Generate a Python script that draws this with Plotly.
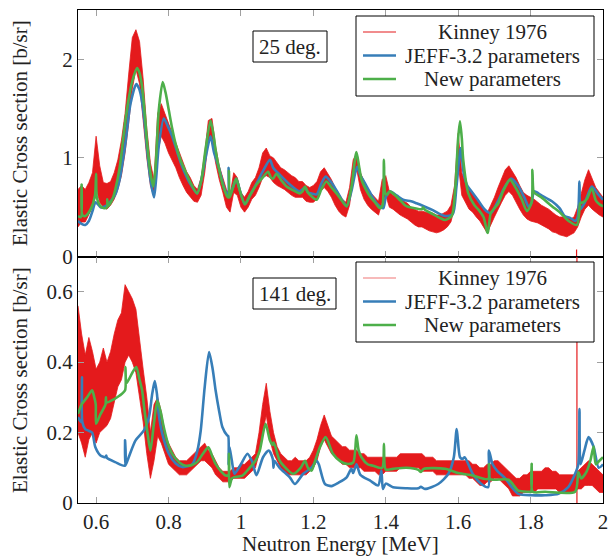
import plotly.graph_objects as go
from plotly.subplots import make_subplots

# ---------------- data ----------------
# Kinney 1976 (experimental band: lower / upper envelope), common energy grid
kin_E = [round(0.55 + 0.01 * i, 2) for i in range(146)]

kin25_lo = [0.30,0.35,0.35,0.42,0.50,0.70,0.55,0.50,0.48,0.52,0.58,0.68,0.82,1.05,1.35,1.70,1.90,1.75,1.38,1.00,
            0.72,0.60,1.05,1.22,1.15,1.05,0.98,0.90,0.80,0.72,0.65,0.60,0.56,0.55,0.62,0.85,1.18,1.20,0.95,0.78,
            0.65,0.50,0.45,0.65,0.62,0.50,0.45,0.50,0.58,0.62,0.70,0.80,0.82,0.80,0.75,0.72,0.70,0.68,0.65,0.62,
            0.60,0.60,0.60,0.56,0.55,0.55,0.58,0.66,0.70,0.66,0.60,0.52,0.46,0.42,0.40,0.52,0.78,0.88,0.68,0.58,
            0.52,0.48,0.45,0.42,0.55,0.62,0.50,0.48,0.45,0.42,0.40,0.38,0.35,0.32,0.30,0.30,0.28,0.26,0.25,0.24,
            0.25,0.27,0.30,0.35,0.50,0.95,0.62,0.55,0.48,0.45,0.40,0.36,0.30,0.24,0.32,0.40,0.48,0.55,0.62,0.66,
            0.62,0.55,0.48,0.42,0.38,0.36,0.35,0.34,0.32,0.30,0.28,0.25,0.24,0.22,0.21,0.20,0.22,0.24,0.30,0.40,
            0.48,0.52,0.48,0.45,0.42,0.40]
kin25_hi = [0.68,0.72,0.68,0.75,0.85,1.22,0.92,0.75,0.74,0.76,0.85,0.98,1.18,1.45,1.85,2.22,2.30,2.18,1.80,1.30,
            0.95,0.78,1.45,1.55,1.45,1.35,1.25,1.15,1.05,0.95,0.86,0.80,0.72,0.68,0.80,1.05,1.38,1.40,1.12,0.92,
            0.80,0.68,0.62,0.85,0.80,0.65,0.60,0.66,0.75,0.80,0.90,1.05,1.10,1.02,1.00,0.95,0.90,0.88,0.85,0.82,
            0.80,0.76,0.76,0.72,0.70,0.72,0.76,0.86,0.90,0.84,0.78,0.70,0.64,0.58,0.55,0.70,0.98,1.05,0.85,0.76,
            0.68,0.64,0.60,0.56,0.78,0.82,0.66,0.62,0.60,0.58,0.56,0.54,0.50,0.48,0.46,0.46,0.45,0.44,0.44,0.42,
            0.42,0.44,0.46,0.52,0.72,1.25,0.85,0.75,0.68,0.65,0.60,0.55,0.48,0.44,0.52,0.60,0.70,0.80,0.88,0.92,
            0.86,0.80,0.72,0.65,0.62,0.60,0.58,0.55,0.52,0.50,0.48,0.45,0.42,0.40,0.40,0.40,0.38,0.40,0.50,0.65,
            0.78,0.88,0.78,0.70,0.65,0.60]

kin141_lo = [0.20,0.17,0.13,0.18,0.20,0.17,0.20,0.21,0.22,0.24,0.28,0.33,0.35,0.40,0.42,0.40,0.37,0.30,0.23,0.14,
             0.07,0.12,0.19,0.17,0.14,0.11,0.10,0.09,0.08,0.08,0.08,0.09,0.10,0.11,0.12,0.12,0.11,0.10,0.08,0.07,
             0.06,0.06,0.06,0.07,0.07,0.07,0.07,0.08,0.09,0.10,0.14,0.20,0.25,0.18,0.14,0.12,0.10,0.09,0.08,0.08,
             0.08,0.08,0.08,0.08,0.09,0.10,0.12,0.16,0.18,0.16,0.14,0.13,0.12,0.11,0.11,0.10,0.10,0.10,0.10,0.09,
             0.09,0.09,0.09,0.08,0.08,0.09,0.09,0.09,0.09,0.10,0.10,0.10,0.10,0.10,0.10,0.09,0.09,0.09,0.09,0.08,
             0.08,0.08,0.08,0.08,0.08,0.08,0.08,0.08,0.07,0.07,0.06,0.05,0.05,0.06,0.06,0.07,0.07,0.06,0.05,0.04,
             0.02,0.02,0.02,0.03,0.03,0.03,0.03,0.04,0.04,0.04,0.04,0.04,0.04,0.03,0.03,0.03,0.03,0.03,0.04,0.04,
             0.05,0.05,0.05,0.04,0.03,0.03]
kin141_hi = [0.56,0.48,0.42,0.47,0.43,0.38,0.40,0.44,0.40,0.43,0.48,0.52,0.54,0.62,0.60,0.58,0.55,0.46,0.38,0.30,
             0.20,0.28,0.30,0.26,0.20,0.17,0.15,0.13,0.12,0.12,0.12,0.13,0.14,0.15,0.16,0.17,0.15,0.14,0.12,0.10,
             0.09,0.09,0.09,0.10,0.10,0.11,0.11,0.12,0.13,0.14,0.20,0.28,0.34,0.26,0.20,0.16,0.14,0.13,0.12,0.12,
             0.13,0.12,0.12,0.12,0.13,0.15,0.18,0.22,0.25,0.22,0.19,0.18,0.17,0.16,0.16,0.15,0.15,0.15,0.14,0.14,
             0.13,0.13,0.13,0.13,0.13,0.13,0.13,0.13,0.13,0.14,0.14,0.14,0.14,0.14,0.14,0.14,0.13,0.13,0.13,0.12,
             0.12,0.12,0.12,0.12,0.12,0.12,0.12,0.12,0.12,0.11,0.11,0.10,0.10,0.11,0.11,0.12,0.12,0.11,0.10,0.09,
             0.08,0.07,0.07,0.08,0.08,0.09,0.09,0.09,0.09,0.10,0.10,0.09,0.09,0.08,0.08,0.08,0.08,0.08,0.09,0.10,
             0.11,0.12,0.11,0.10,0.09,0.08]

# isolated Kinney outlier points (energy, lower, upper)
out25_E, out25_lo, out25_hi = [1.927, 1.927], [0.0, 0.07], [0.0, 0.07]
out141_E, out141_lo, out141_hi = [1.928, 1.928], [0.0, 0.75], [0.0, 0.75]

# JEFF-3.2 parameters, 25 deg.
jeff25_E = [0.550,0.560,0.570,0.580,0.590,0.598,0.605,0.612,0.626,0.640,0.653,0.665,0.675,0.681,0.695,0.711,0.719,0.727,
            0.735,0.741,0.750,0.760,0.766,0.773,0.787,0.797,0.810,0.825,0.838,0.858,0.879,0.892,0.905,0.916,0.926,0.940,
            0.955,0.963,0.965,0.966,0.968,0.978,0.987,0.997,1.011,1.025,1.043,1.060,1.080,1.089,1.107,1.135,1.162,1.177,
            1.185,1.195,1.209,1.222,1.234,1.250,1.264,1.280,1.292,1.305,1.321,1.330,1.340,1.355,1.375,1.393,1.400,1.411,
            1.430,1.448,1.470,1.485,1.505,1.530,1.564,1.585,1.595,1.607,1.615,1.625,1.637,1.655,1.674,1.690,1.711,1.728,
            1.746,1.767,1.785,1.795,1.803,1.810,1.830,1.859,1.880,1.894,1.910,1.923,1.930,1.935,1.938,1.950,1.969,1.987,2.000]
jeff25_v = [0.36,0.33,0.32,0.36,0.46,0.55,0.53,0.50,0.51,0.56,0.63,0.78,1.00,1.15,1.55,1.75,1.70,1.57,
            1.32,1.08,0.78,0.60,0.80,1.12,1.40,1.33,1.22,1.05,0.91,0.75,0.64,0.80,1.05,1.22,1.05,0.89,
            0.68,0.63,0.63,0.90,0.62,0.70,0.79,0.67,0.53,0.62,0.74,0.86,0.98,0.90,0.83,0.73,0.66,0.70,
            0.65,0.64,0.63,0.74,0.81,0.75,0.67,0.57,0.51,0.66,0.91,0.82,0.76,0.66,0.54,0.49,0.60,0.66,
            0.62,0.575,0.56,0.54,0.51,0.47,0.41,0.43,0.70,1.10,0.85,0.72,0.66,0.57,0.475,0.44,0.57,0.70,
            0.79,0.71,0.58,0.50,0.55,0.66,0.62,0.56,0.49,0.41,0.39,0.36,0.40,0.76,0.48,0.55,0.71,0.63,0.575]

# New parameters, 25 deg.
new25_E = [0.550,0.558,0.560,0.562,0.570,0.585,0.597,0.600,0.602,0.612,0.622,0.630,0.631,0.633,0.645,0.653,0.665,0.675,
           0.681,0.690,0.700,0.713,0.720,0.727,0.735,0.741,0.750,0.758,0.765,0.773,0.784,0.792,0.801,0.810,0.819,0.833,
           0.847,0.862,0.879,0.890,0.902,0.916,0.924,0.930,0.940,0.949,0.962,0.966,0.967,0.969,0.978,0.987,0.996,1.011,
           1.025,1.043,1.060,1.075,1.083,1.089,1.098,1.112,1.126,1.145,1.162,1.170,1.177,1.185,1.195,1.209,1.222,1.236,
           1.250,1.264,1.280,1.292,1.305,1.319,1.326,1.333,1.345,1.356,1.370,1.384,1.391,1.395,1.399,1.405,1.410,1.420,
           1.440,1.457,1.480,1.500,1.503,1.508,1.530,1.550,1.564,1.582,1.592,1.600,1.605,1.610,1.614,1.628,1.645,1.656,
           1.670,1.680,1.682,1.690,1.700,1.711,1.725,1.743,1.760,1.776,1.790,1.803,1.805,1.808,1.812,1.830,1.859,1.880,
           1.905,1.928,1.935,1.937,1.945,1.955,1.969,1.980,1.990,2.000]
new25_v = [0.41,0.40,0.73,0.42,0.41,0.48,0.62,0.84,0.60,0.51,0.49,0.50,0.58,0.51,0.58,0.68,0.90,1.20,
           1.38,1.60,1.78,1.91,1.86,1.72,1.42,1.15,0.85,0.71,0.95,1.48,1.77,1.66,1.48,1.30,1.15,0.98,
           0.86,0.74,0.64,0.76,1.08,1.38,1.24,1.08,0.88,0.74,0.61,0.60,0.87,0.60,0.70,0.79,0.68,0.53,
           0.62,0.73,0.80,0.86,0.80,0.79,0.84,0.77,0.71,0.67,0.64,0.66,0.71,0.65,0.61,0.575,0.68,0.76,
           0.70,0.64,0.56,0.51,0.70,1.06,0.92,0.78,0.68,0.61,0.55,0.49,0.52,0.98,0.64,0.63,0.66,0.64,
           0.57,0.51,0.49,0.48,0.50,0.475,0.43,0.39,0.37,0.41,0.70,1.20,1.37,1.20,0.98,0.64,0.52,0.475,
           0.40,0.25,0.24,0.44,0.49,0.54,0.67,0.78,0.69,0.575,0.46,0.55,0.88,0.66,0.64,0.60,0.51,0.45,
           0.36,0.32,0.48,0.54,0.55,0.58,0.69,0.57,0.53,0.51]

# JEFF-3.2 parameters, 141 deg.
jeff141_E = [0.550,0.558,0.561,0.562,0.570,0.580,0.589,0.598,0.612,0.626,0.628,0.630,0.653,0.679,0.680,0.681,0.690,0.709,
             0.732,0.746,0.755,0.762,0.768,0.773,0.782,0.801,0.820,0.838,0.866,0.880,0.889,0.900,0.912,0.922,0.930,0.940,
             0.949,0.962,0.965,0.966,0.968,0.975,0.982,1.000,1.018,1.030,1.043,1.061,1.077,1.088,1.090,1.092,1.107,1.135,
             1.149,1.172,1.195,1.209,1.215,1.232,1.250,1.270,1.292,1.305,1.310,1.319,1.330,1.356,1.379,1.388,1.392,1.400,
             1.420,1.457,1.490,1.497,1.508,1.545,1.573,1.588,1.596,1.605,1.612,1.618,1.640,1.664,1.683,1.685,1.695,1.709,
             1.730,1.748,1.766,1.803,1.840,1.877,1.904,1.923,1.932,1.935,1.938,1.949,1.960,1.974,1.988,2.000]
jeff141_v = [0.244,0.23,0.357,0.23,0.21,0.205,0.20,0.158,0.135,0.13,0.135,0.128,0.116,0.106,0.178,0.106,0.13,0.178,
             0.206,0.244,0.31,0.346,0.31,0.253,0.20,0.14,0.112,0.102,0.11,0.15,0.206,0.33,0.429,0.38,0.32,0.26,
             0.215,0.192,0.19,0.11,0.16,0.12,0.083,0.11,0.14,0.12,0.079,0.13,0.149,0.125,0.10,0.12,0.10,0.073,
             0.054,0.083,0.10,0.12,0.11,0.054,0.048,0.058,0.073,0.097,0.085,0.11,0.08,0.064,0.05,0.092,0.04,0.055,
             0.045,0.042,0.042,0.046,0.04,0.054,0.083,0.13,0.21,0.13,0.125,0.13,0.083,0.054,0.045,0.149,0.11,0.09,
             0.07,0.045,0.026,0.022,0.022,0.026,0.045,0.083,0.11,0.267,0.11,0.15,0.187,0.16,0.10,0.11]

# New parameters, 141 deg.
new141_E = [0.550,0.560,0.575,0.589,0.595,0.599,0.600,0.611,0.626,0.627,0.629,0.650,0.665,0.680,0.681,0.684,0.700,0.711,
            0.720,0.727,0.734,0.741,0.750,0.759,0.769,0.778,0.787,0.798,0.810,0.830,0.847,0.865,0.879,0.895,0.910,0.920,
            0.930,0.945,0.958,0.966,0.967,0.968,0.975,0.981,1.004,1.020,1.040,1.052,1.068,1.080,1.087,1.090,1.095,1.107,
            1.125,1.144,1.165,1.177,1.185,1.195,1.205,1.218,1.234,1.254,1.275,1.292,1.310,1.319,1.325,1.333,1.350,1.365,
            1.390,1.395,1.400,1.420,1.457,1.490,1.497,1.505,1.564,1.600,1.640,1.683,1.685,1.688,1.739,1.766,1.794,1.801,
            1.803,1.806,1.840,1.923,1.932,1.940,1.955,1.965,1.974,1.980,1.990,2.000]
new141_v = [0.253,0.28,0.30,0.32,0.30,0.28,0.225,0.25,0.28,0.30,0.285,0.295,0.305,0.32,0.386,0.34,0.37,0.386,
            0.35,0.32,0.26,0.206,0.149,0.22,0.29,0.26,0.215,0.17,0.14,0.115,0.106,0.108,0.116,0.14,0.158,0.135,
            0.111,0.09,0.078,0.08,0.14,0.045,0.07,0.073,0.078,0.095,0.12,0.149,0.225,0.178,0.165,0.172,0.16,0.12,
            0.098,0.083,0.10,0.12,0.10,0.092,0.12,0.158,0.187,0.14,0.118,0.111,0.115,0.192,0.15,0.13,0.11,0.106,
            0.10,0.168,0.095,0.097,0.10,0.094,0.088,0.097,0.097,0.085,0.078,0.068,0.11,0.068,0.066,0.035,0.032,0.032,
            0.111,0.032,0.032,0.032,0.088,0.07,0.09,0.12,0.16,0.11,0.12,0.13]

x_ticks = [0.6, 0.8, 1.0, 1.2, 1.4, 1.6, 1.8, 2.0]
x_ticktext = ["0.6", "0.8", "1", "1.2", "1.4", "1.6", "1.8", "2"]
y1_ticks = [0, 1, 2]
y1_ticktext = ["0", "1", "2"]
y2_ticks = [0, 0.2, 0.4, 0.6]
y2_ticktext = ["0", "0.2", "0.4", "0.6"]
legend_labels = ["Kinney 1976", "JEFF-3.2 parameters", "New parameters"]
panel_labels = ["25 deg.", "141 deg."]
x_title = "Neutron Energy [MeV]"
y_title = "Elastic Cross section [b/sr]"

# ---------------- styling ----------------
RED = "#e41a1c"
BLUE = "#377eb8"
GREEN = "#4daf4a"
FONT = "Liberation Serif"
FS = 21
TXT = "#222"
W, H = 608, 557
ML, MR, MT, MB = 78, 5, 10, 54

fig = make_subplots(rows=2, cols=1, shared_xaxes=True, vertical_spacing=0)


def add_band(E, lo, hi, row):
    fig.add_trace(go.Scatter(x=E + E[::-1], y=hi + lo[::-1], fill="toself",
                             fillcolor=RED, line=dict(color=RED, width=0.8),
                             mode="lines", hoverinfo="skip", showlegend=False), row=row, col=1)


def add_vbar(E, lo, hi, row):
    fig.add_trace(go.Scatter(x=E, y=[lo[0], hi[1]], mode="lines",
                             line=dict(color=RED, width=1.2), showlegend=False,
                             hoverinfo="skip"), row=row, col=1)


add_band(kin_E, kin25_lo, kin25_hi, 1)
add_vbar(out25_E, out25_lo, out25_hi, 1)
add_band(kin_E, kin141_lo, kin141_hi, 2)
add_vbar(out141_E, out141_lo, out141_hi, 2)

for E, v, c, r in [(jeff25_E, jeff25_v, BLUE, 1), (new25_E, new25_v, GREEN, 1),
                   (jeff141_E, jeff141_v, BLUE, 2), (new141_E, new141_v, GREEN, 2)]:
    fig.add_trace(go.Scatter(x=E, y=v, mode="lines",
                             line=dict(color=c, width=2.6, shape="spline", smoothing=0.7),
                             showlegend=False, hoverinfo="skip"), row=r, col=1)

axis_common = dict(showline=True, linecolor="black", linewidth=1, mirror="allticks",
                   ticks="inside", ticklen=6, tickcolor="#a0a0a0", tickwidth=1.3,
                   showgrid=False, zeroline=False, automargin=False,
                   ticklabeloverflow="allow",
                   tickfont=dict(family=FONT, size=FS, color=TXT))

fig.update_xaxes(range=[0.55, 2.0], tickvals=x_ticks, ticktext=x_ticktext, **axis_common)
fig.update_xaxes(showticklabels=False, row=1, col=1)
fig.update_yaxes(**axis_common)
fig.update_yaxes(range=[0, 2.5], tickvals=y1_ticks, ticktext=y1_ticktext, row=1, col=1)
fig.update_yaxes(range=[0, 0.7], tickvals=y2_ticks, ticktext=y2_ticktext, row=2, col=1)

# ---------------- hand-drawn legends and labels (pixel -> paper) ----------------
PW = W - ML - MR
PH = H - MT - MB


def px(x):
    return (x - ML) / PW


def py(y):
    return (H - MB - y) / PH


shapes = []
annotations = []


def box(x0, y0, x1, y1):
    shapes.append(dict(type="rect", xref="paper", yref="paper",
                       x0=px(x0), x1=px(x1), y0=py(y1), y1=py(y0),
                       line=dict(color="black", width=1), fillcolor="white", layer="above"))


def text(x, y, s, angle=0):
    annotations.append(dict(x=px(x), y=py(y), xref="paper", yref="paper", text=s,
                            showarrow=False, xanchor="center", yanchor="middle", textangle=angle,
                            font=dict(family=FONT, size=FS, color=TXT)))


def legend(top, red_col):
    box(356, top, 594, top + 80)
    ys = [top + 16, top + 39.5, top + 63]
    cols = [(red_col, 1.2), (BLUE, 2.6), (GREEN, 2.6)]
    for yy, (c, w), lab in zip(ys, cols, legend_labels):
        shapes.append(dict(type="line", xref="paper", yref="paper", x0=px(363), x1=px(396),
                           y0=py(yy), y1=py(yy), line=dict(color=c, width=w), layer="above"))
        text(492, yy, lab)


legend(16, RED)
legend(262, "rgba(228,26,28,0.6)")
box(253, 31, 327, 62)
text(290, 47, panel_labels[0])
box(253, 278, 336, 309)
text(294.5, 294, panel_labels[1])
text(20, 133, y_title, angle=-90)
text(20, 380, y_title, angle=-90)
text(340, 544, x_title)

fig.update_layout(width=W, height=H, margin=dict(l=ML, r=MR, t=MT, b=MB),
                  plot_bgcolor="white", paper_bgcolor="white",
                  shapes=shapes, annotations=annotations, showlegend=False)

fig.write_html("out.html", config={"displayModeBar": False},
               post_script="document.body.style.margin='0';document.body.style.padding='0';")
